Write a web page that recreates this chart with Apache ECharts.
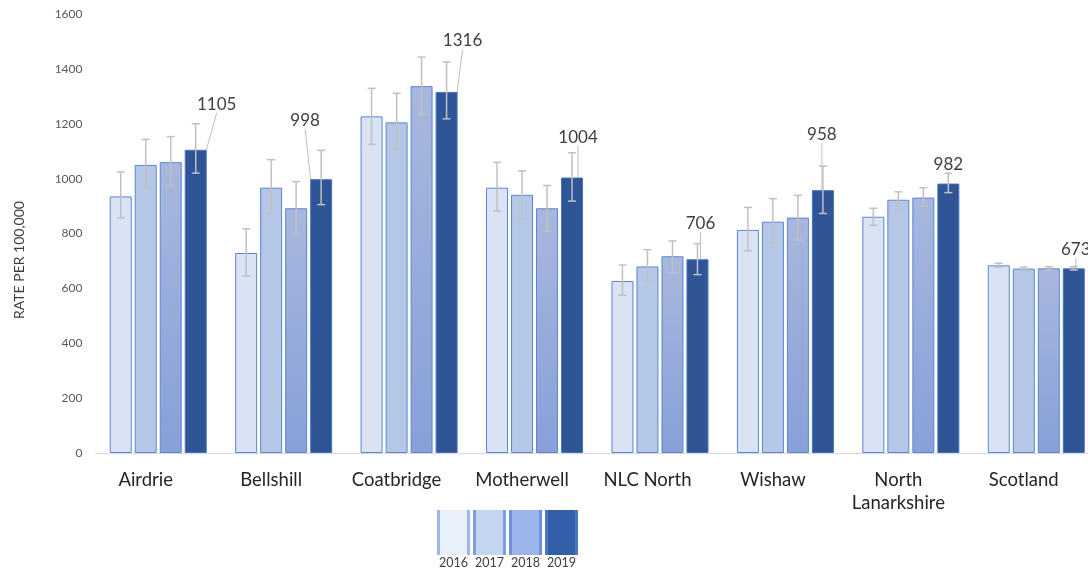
<!DOCTYPE html>
<html>
<head>
<meta charset="utf-8">
<script src="https://cdn.jsdelivr.net/npm/echarts@6/dist/echarts.min.js"></script>
<style>
html,body{margin:0;padding:0;background:#fff;overflow:hidden;width:1088px;height:571px;}
#chart{width:1099px;height:571px;}
</style>
</head>
<body>
<div id="chart"></div>
<script>
const categories = ['Airdrie', 'Bellshill', 'Coatbridge', 'Motherwell', 'NLC North', 'Wishaw', 'North\nLanarkshire', 'Scotland'];
const years = ['2016', '2017', '2018', '2019'];
const yTicks = [0, 200, 400, 600, 800, 1000, 1200, 1400, 1600];

const rate2016 = [935, 729, 1227, 967, 627, 813, 861, 684];
const rate2017 = [1050, 967, 1205, 941, 680, 843, 923, 672];
const rate2018 = [1060, 892, 1337, 892, 717, 858, 931, 673];
const rate2019 = [1105, 998, 1316, 1004, 706, 958, 982, 673];

const low2016 = [857, 645, 1125, 882, 575, 737, 830, 677];
const high2016 = [1024, 817, 1329, 1059, 685, 895, 892, 692];
const low2017 = [967, 873, 1108, 855, 627, 764, 887, 666];
const high2017 = [1143, 1069, 1311, 1028, 741, 927, 952, 678];
const low2018 = [975, 803, 1234, 808, 657, 776, 899, 667];
const high2018 = [1153, 989, 1443, 975, 773, 939, 967, 679];
const low2019 = [1020, 905, 1218, 918, 650, 873, 949, 667];
const high2019 = [1200, 1103, 1425, 1094, 763, 1046, 1019, 679];

const rates = [rate2016, rate2017, rate2018, rate2019];
const lows = [low2016, low2017, low2018, low2019];
const highs = [high2016, high2017, high2018, high2019];

// styling
const BAR_W = 22, GAP_PX = 3;
const fills = [
  '#dae3f3',
  '#b4c7e7',
  new echarts.graphic.LinearGradient(0, 0, 0, 1, [{offset: 0, color: '#a8b7de'}, {offset: 1, color: '#87a0d8'}]),
  '#2f5597'
];
const borders = ['#5b85d3', '#5b85d3', '#5b85d3', '#4472c4'];
// label offsets (dx, dy) for the 2019 value labels
const labelShift = [[21, -32], [-16, -45], [16, -38], [6, -27], [3, -22], [-1, -42], [0, -6], [2, -5]];

const chart = echarts.init(document.getElementById('chart'));

const series = [];
years.forEach((y, i) => {
  const s = {
    name: y,
    type: 'bar',
    data: rates[i],
    barWidth: BAR_W,
    barGap: (GAP_PX / BAR_W * 100) + '%',
    itemStyle: { color: fills[i], borderColor: borders[i], borderWidth: 1 },
    emphasis: { disabled: true },
    z: 2
  };
  if (i === 3) {
    s.label = {
      show: true, position: 'top', distance: 5,
      fontSize: 17, color: '#404040', fontFamily: 'Lato'
    };
    s.labelLayout = function (p) {
      const sh = labelShift[p.dataIndex];
      return { dx: sh[0], dy: sh[1] };
    };
    s.labelLine = { show: true, lineStyle: { color: '#bfbfbf', width: 1 } };
  }
  series.push(s);
});

years.forEach((y, i) => {
  series.push({
    type: 'custom',
    name: 'err' + y,
    z: 5,
    silent: true,
    data: categories.map((c, k) => [k, lows[i][k], highs[i][k]]),
    renderItem: function (params, api) {
      const k = api.value(0);
      const off = (i - 1.5) * (BAR_W + GAP_PX);
      const pLow = api.coord([k, api.value(1)]);
      const pHigh = api.coord([k, api.value(2)]);
      const x = pLow[0] + off;
      const cap = 4;
      const st = { stroke: '#c0c0c0', lineWidth: 1.5 };
      return {
        type: 'group',
        children: [
          { type: 'line', shape: { x1: x, y1: pLow[1], x2: x, y2: pHigh[1] }, style: st },
          { type: 'line', shape: { x1: x - cap, y1: pLow[1], x2: x + cap, y2: pLow[1] }, style: st },
          { type: 'line', shape: { x1: x - cap, y1: pHigh[1], x2: x + cap, y2: pHigh[1] }, style: st }
        ]
      };
    }
  });
});

// legend swatches
const legInner = ['#e8f0fc', '#c4d6f2', '#9bb5ea', '#335fa8'];
const legSide = ['#9db6e6', '#7c9ee0', '#6f8fd8', '#4d77c4'];
const legendChildren = [];
years.forEach((y, i) => {
  const x0 = 437 + i * 36;
  legendChildren.push({ type: 'rect', shape: { x: x0, y: 510, width: 33, height: 45 }, style: { fill: legInner[i] } });
  legendChildren.push({ type: 'rect', shape: { x: x0, y: 510, width: 3, height: 45 }, style: { fill: legSide[i] } });
  legendChildren.push({ type: 'rect', shape: { x: x0 + 30, y: 510, width: 3, height: 45 }, style: { fill: legSide[i] } });
  legendChildren.push({ type: 'text', x: x0 + 16.5, y: 563, style: { text: y, fill: '#404040', fontSize: 12.5, fontFamily: 'Lato', align: 'center', verticalAlign: 'middle' } });
});

chart.setOption({
  animation: false,
  textStyle: { fontFamily: 'Lato' },
  grid: { left: 95.5, right: 0, top: 14, bottom: 118, containLabel: false },
  xAxis: {
    type: 'category',
    data: categories,
    axisLine: { lineStyle: { color: '#d9d9d9', width: 1 } },
    axisTick: { show: false },
    axisLabel: { fontSize: 18.5, color: '#262626', margin: 15.5, lineHeight: 23, interval: 0, padding: [0, 25, 0, 0] }
  },
  yAxis: {
    type: 'value',
    min: yTicks[0], max: yTicks[yTicks.length - 1], interval: 200,
    splitLine: { show: false },
    axisLine: { show: false },
    axisTick: { show: false },
    axisLabel: { fontSize: 12, color: '#595959', margin: 13, formatter: function (v) { return String(v); } }
  },
  graphic: [
    { type: 'text', x: 19, y: 260, rotation: Math.PI / 2,
      style: { text: 'RATE PER 100,000', fill: '#404040', fontSize: 14, fontFamily: 'Lato', align: 'center', verticalAlign: 'middle' } },
    { type: 'group', children: legendChildren }
  ],
  series: series
});
</script>
</body>
</html>
